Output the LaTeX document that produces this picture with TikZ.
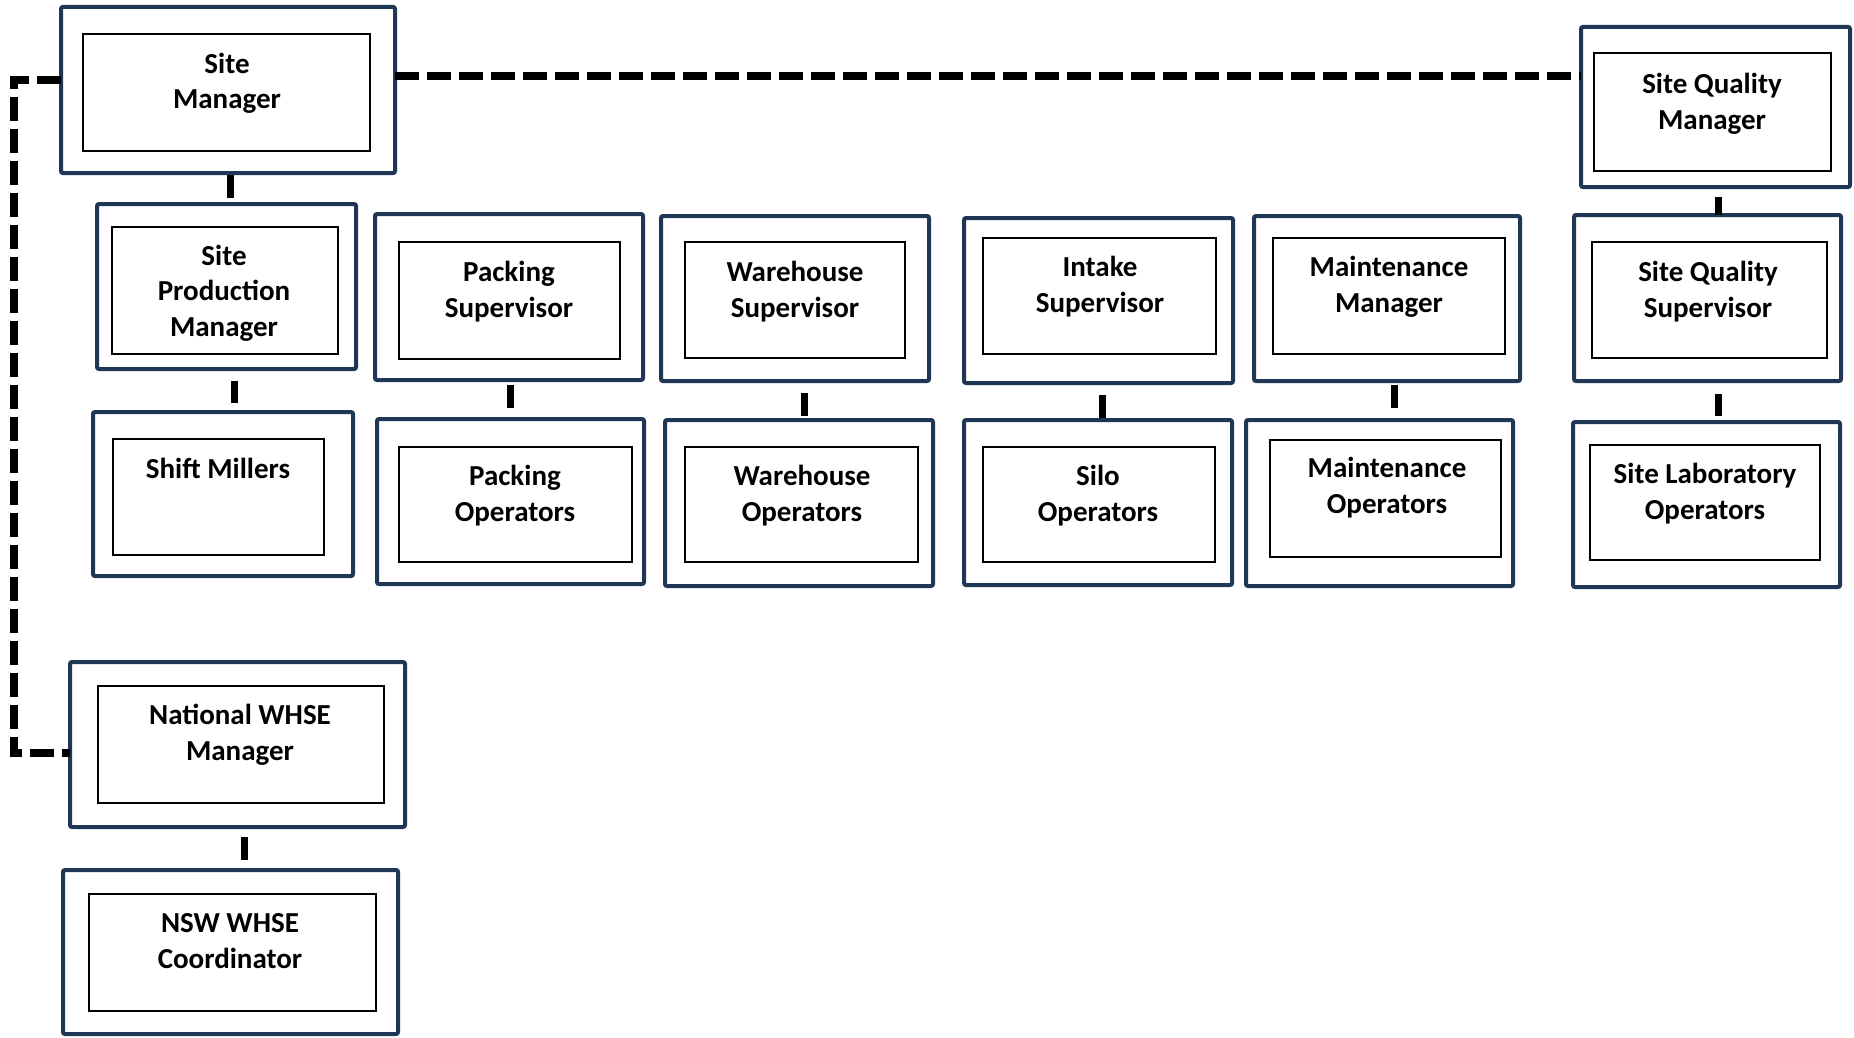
\documentclass[tikz,border=0pt]{standalone}
\usepackage{fontspec}
\setmainfont{Carlito}
\usetikzlibrary{fit}
\definecolor{navy}{RGB}{31,55,85}
\tikzset{
  outerbox/.style={draw=navy, line width=4pt, rounded corners=2pt, inner sep=0pt, outer sep=0pt},
  innerbox/.style={draw=black, line width=1.5pt, inner sep=0pt, outer sep=0pt},
  lbl/.style={font=\fontsize{29}{35.5}\selectfont\bfseries, align=center, anchor=base, inner sep=0pt},
  conn/.style={line width=7pt, black},
  dashln/.style={line width=7.5pt, black, dash pattern=on 24pt off 8pt}
}
\newcommand\orgbox[9]{%
  \node[outerbox, fit={(#2+2,#3+2) (#4-2,#5-2)}] (#1) {};
  \node[innerbox, fit={(#6,#7) (#8,#9)}] (#1-in) {};
}
\begin{document}
\begin{tikzpicture}[x=1pt,y=-1pt]
\useasboundingbox[fill=white] (0,0) rectangle (1854,1038);

% boxes (label anchor = baseline of last line)
\orgbox{sm}{59}{5}{397}{175}{83}{34}{370}{151}
\node[lbl] (sm-t) at (227,109) {Site\\Manager};

\orgbox{spm}{95}{202}{358}{371}{112}{227}{338}{354}
\node[lbl] (spm-t) at (224,336) {Site\\Production\\Manager};

\orgbox{shm}{91}{410}{355}{578}{113}{439}{324}{555}
\node[lbl] (shm-t) at (218,478) {Shift Millers};

\orgbox{ps}{373}{212}{645}{382}{399}{242}{620}{359}
\node[lbl] (ps-t) at (509,317) {Packing\\Supervisor};

\orgbox{po}{375}{417}{646}{586}{399}{447}{632}{562}
\node[lbl] (po-t) at (515,521) {Packing\\Operators};

\orgbox{ws}{659}{214}{931}{383}{685}{242}{905}{358}
\node[lbl] (ws-t) at (795,317) {Warehouse\\Supervisor};

\orgbox{wo}{663}{418}{935}{588}{685}{447}{918}{562}
\node[lbl] (wo-t) at (802,521) {Warehouse\\Operators};

\orgbox{is}{962}{216}{1235}{385}{983}{238}{1216}{354}
\node[lbl] (is-t) at (1100,312) {Intake\\Supervisor};

\orgbox{so}{962}{418}{1234}{587}{983}{447}{1215}{562}
\node[lbl] (so-t) at (1098,521) {Silo\\Operators};

\orgbox{mm}{1252}{214}{1522}{383}{1273}{238}{1505}{354}
\node[lbl] (mm-t) at (1389,312) {Maintenance\\Manager};

\orgbox{mo}{1244}{418}{1515}{588}{1270}{440}{1501}{557}
\node[lbl] (mo-t) at (1387,513) {Maintenance\\Operators};

\orgbox{sqm}{1579}{25}{1852}{189}{1594}{53}{1831}{171}
\node[lbl] (sqm-t) at (1712,129) {Site Quality\\Manager};

\orgbox{sqs}{1572}{213}{1843}{383}{1592}{242}{1827}{358}
\node[lbl] (sqs-t) at (1708,317) {Site Quality\\Supervisor};

\orgbox{slo}{1571}{420}{1842}{589}{1590}{445}{1820}{560}
\node[lbl] (slo-t) at (1705,519) {Site Laboratory\\Operators};

\orgbox{nwm}{68}{660}{407}{829}{98}{686}{384}{803}
\node[lbl] (nwm-t) at (240,760) {National WHSE\\Manager};

\orgbox{nsw}{61}{868}{400}{1036}{89}{894}{376}{1011}
\node[lbl] (nsw-t) at (230,968) {NSW WHSE\\Coordinator};

% solid connectors
\coordinate (c1) at ([xshift=2pt]sm.south);
\draw[conn, shorten <=2pt, shorten >=6pt] (c1) -- (c1 |- spm.north);
\coordinate (c2) at ([xshift=7.5pt]spm.south);
\draw[conn, shorten <=12pt, shorten >=9pt] (c2) -- (c2 |- shm.north);
\coordinate (c3) at ([xshift=1pt]ps.south);
\draw[conn, shorten <=5pt, shorten >=11pt] (c3) -- (c3 |- po.north);
\coordinate (c4) at ([xshift=9pt]ws.south);
\draw[conn, shorten <=12pt, shorten >=4pt] (c4) -- (c4 |- wo.north);
\coordinate (c5) at ([xshift=3.5pt]is.south);
\draw[conn, shorten <=12pt, shorten >=2pt] (c5) -- (c5 |- so.north);
\coordinate (c6) at ([xshift=7pt]mm.south);
\draw[conn, shorten <=4pt, shorten >=12pt] (c6) -- (c6 |- mo.north);
\coordinate (c7) at ([xshift=2.5pt]sqm.south);
\draw[conn, shorten <=10pt] (c7) -- (c7 |- sqs.north);
\coordinate (c8) at ([xshift=10.5pt]sqs.south);
\draw[conn, shorten <=13pt, shorten >=6pt] (c8) -- (c8 |- slo.north);
\coordinate (c9) at ([xshift=6.5pt]nwm.south);
\draw[conn, shorten <=10pt, shorten >=10pt] (c9) -- (c9 |- nsw.north);

% dashed connectors
\coordinate (d1) at ([yshift=14pt]sm.east);
\draw[dashln] (d1) -- (d1 -| sqm.west);
\coordinate (rail) at (14,400);
\draw[dashln] ([yshift=10pt]sm.west) -| (rail) |- ([yshift=-8.5pt]nwm.west);
\end{tikzpicture}
\end{document}
